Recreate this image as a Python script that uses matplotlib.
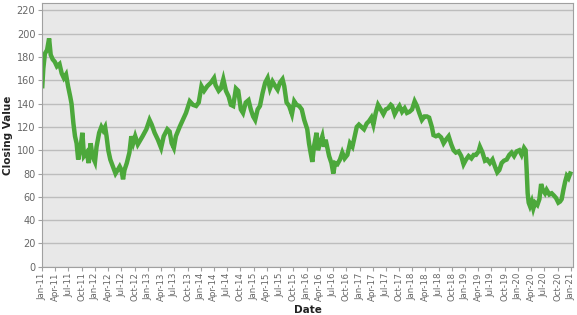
import matplotlib
matplotlib.use('Agg')
import matplotlib.pyplot as plt
import matplotlib.dates as mdates
import pandas as pd

# values (roughly twice a month)
dates = [
    '2011-01-01', '2011-01-08', '2011-01-19', '2011-02-03', '2011-02-17', '2011-02-28',
    '2011-03-14', '2011-03-28', '2011-04-12', '2011-04-30', '2011-05-15', '2011-05-30',
    '2011-06-14', '2011-06-28', '2011-07-13', '2011-07-22', '2011-08-04', '2011-08-15',
    '2011-08-26', '2011-09-06', '2011-09-20', '2011-10-05', '2011-10-16', '2011-11-03',
    '2011-11-18', '2011-12-01', '2011-12-14', '2011-12-31',
    '2012-01-11', '2012-01-29', '2012-02-13', '2012-02-26', '2012-03-10', '2012-03-20',
    '2012-04-01', '2012-04-15', '2012-05-03', '2012-05-21', '2012-06-05', '2012-06-19',
    '2012-07-01', '2012-07-12', '2012-07-22', '2012-08-07', '2012-08-25', '2012-09-07',
    '2012-09-20', '2012-10-04', '2012-10-22', '2012-11-10', '2012-11-24', '2012-12-20',
    '2013-01-11', '2013-01-26', '2013-02-15', '2013-03-10', '2013-04-01', '2013-04-19',
    '2013-05-14', '2013-05-30', '2013-06-13', '2013-06-28', '2013-07-12', '2013-08-07',
    '2013-08-29', '2013-09-20', '2013-10-16', '2013-11-07', '2013-11-29', '2013-12-17',
    '2014-01-05', '2014-01-23', '2014-02-14', '2014-03-11', '2014-04-02', '2014-04-12',
    '2014-05-04', '2014-05-19', '2014-06-05', '2014-06-23', '2014-07-12', '2014-07-27',
    '2014-08-12', '2014-08-31', '2014-09-16', '2014-10-04', '2014-10-19', '2014-11-07',
    '2014-11-26', '2014-12-12', '2014-12-28',
    '2015-01-11', '2015-01-28', '2015-02-13', '2015-03-03', '2015-03-21', '2015-04-07',
    '2015-04-23', '2015-05-11', '2015-05-30', '2015-06-15', '2015-07-01', '2015-07-19',
    '2015-07-31', '2015-08-16', '2015-09-03', '2015-09-22', '2015-10-08', '2015-10-24',
    '2015-11-11', '2015-11-29', '2015-12-16',
    '2016-01-06', '2016-01-18', '2016-01-29', '2016-02-10', '2016-02-21', '2016-03-10',
    '2016-03-20', '2016-04-03', '2016-04-19', '2016-04-30', '2016-05-12', '2016-05-24',
    '2016-06-05', '2016-06-21', '2016-07-04', '2016-07-16', '2016-08-01', '2016-08-19',
    '2016-09-04', '2016-09-20', '2016-10-09', '2016-10-27', '2016-11-13', '2016-11-29',
    '2016-12-13', '2016-12-28',
    '2017-01-14', '2017-02-01', '2017-02-20', '2017-03-08', '2017-03-24', '2017-04-07',
    '2017-04-23', '2017-05-09', '2017-05-28', '2017-06-15', '2017-07-01', '2017-07-17',
    '2017-08-05', '2017-08-14', '2017-09-01', '2017-09-18', '2017-10-04', '2017-10-22',
    '2017-11-09', '2017-11-25', '2017-12-12', '2017-12-30',
    '2018-01-17', '2018-02-02', '2018-02-18', '2018-03-08', '2018-03-26', '2018-04-12',
    '2018-04-27', '2018-05-16', '2018-05-27', '2018-06-13', '2018-07-01', '2018-07-19',
    '2018-08-05', '2018-08-21', '2018-09-09', '2018-09-27', '2018-10-13', '2018-10-29',
    '2018-11-17', '2018-12-05', '2018-12-21',
    '2019-01-07', '2019-01-25', '2019-02-13', '2019-03-01', '2019-03-17', '2019-04-04',
    '2019-04-13', '2019-05-01', '2019-05-18', '2019-06-03', '2019-06-21', '2019-07-09',
    '2019-07-26', '2019-08-11', '2019-08-25', '2019-09-10', '2019-09-26', '2019-10-15',
    '2019-11-02', '2019-11-18', '2019-12-05', '2019-12-23',
    '2020-01-10', '2020-01-26', '2020-02-12', '2020-02-23', '2020-03-01', '2020-03-08',
    '2020-03-15', '2020-03-24', '2020-04-05', '2020-04-16', '2020-04-28', '2020-05-14',
    '2020-05-28', '2020-06-09', '2020-06-20', '2020-07-06', '2020-07-17', '2020-08-05',
    '2020-08-21', '2020-09-06', '2020-09-20', '2020-10-06', '2020-10-18', '2020-10-29',
    '2020-11-10', '2020-11-22', '2020-12-03', '2020-12-15', '2020-12-27',
]
closing = [
    155, 170, 183, 186, 196, 182,
    178, 176, 172, 174, 166, 162,
    165, 155, 146, 140, 123, 112,
    106, 92, 100, 115, 95, 98,
    89, 106, 95, 90,
    103, 115, 120, 117, 120, 112,
    100, 92, 86, 80, 83, 86,
    83, 75, 83, 89, 98, 112,
    106, 112, 105, 109, 112, 118,
    126, 122, 115, 109, 102, 112,
    118, 116, 106, 102, 112, 120,
    126, 132, 142, 139, 138, 141,
    155, 151, 155, 158, 162, 156,
    151, 153, 161, 151, 146, 139,
    138, 153, 151, 135, 132, 141,
    143, 135, 129,
    126, 135, 138, 149, 158, 162,
    153, 159, 155, 152, 158, 161,
    155, 141, 138, 131, 142, 139,
    138, 135, 126,
    118, 106, 98, 90, 103, 115,
    100, 106, 112, 103, 109, 102,
    95, 89, 80, 89, 88, 92,
    98, 93, 96, 106, 103, 112,
    120, 122,
    120, 118, 123, 125, 128, 122,
    132, 139, 135, 131, 135, 136,
    139, 138, 131, 135, 138, 133,
    136, 132, 133, 135,
    142, 138, 132, 126, 129, 129,
    128, 120, 113, 112, 113, 111,
    106, 109, 112, 105, 100, 98,
    99, 95, 88,
    92, 95, 93, 96, 96, 99,
    103, 98, 91, 92, 89, 92,
    86, 81, 83, 89, 91, 92,
    96, 98, 95, 99,
    100, 96, 102, 100, 83, 63,
    55, 52, 56, 50, 55, 53,
    58, 71, 66, 63, 66, 62,
    63, 61, 59, 55, 56, 58,
    66, 73, 78, 76, 80,
]
y_ticks = list(range(0, 221, 20))

df = pd.DataFrame({'Date': pd.to_datetime(dates), 'Close': closing})

fig = plt.figure(figsize=(5.77, 3.15), dpi=100)
ax = fig.add_axes([0.0733, 0.1533, 0.9197, 0.8357])
ax.set_facecolor('#e8e8e8')

ax.plot(df['Date'], df['Close'], color='#4ca83b', lw=3.2, solid_joinstyle='miter')

ax.set_ylim(0, 226)
ax.set_yticks(y_ticks)
ax.set_xlim(pd.Timestamp('2011-01-01'), pd.Timestamp('2021-01-15'))
ax.xaxis.set_major_locator(mdates.MonthLocator(bymonth=[1, 4, 7, 10]))
ax.xaxis.set_major_formatter(mdates.DateFormatter('%b-%y'))

ax.grid(axis='y', color='#bdbdbd', lw=1)
ax.set_axisbelow(True)
for side in ax.spines:
    ax.spines[side].set_color('#a0a0a0')
ax.tick_params(axis='both', colors='#a0a0a0', labelcolor='#666666', length=3)
ax.tick_params(axis='y', labelsize=7, pad=2)
ax.tick_params(axis='x', labelrotation=90, labelsize=6.2, pad=1)

ax.set_ylabel('Closing Value', fontsize=7.5, fontweight='bold', color='#222222')
ax.yaxis.set_label_coords(-0.055, 0.5)
ax.set_xlabel('Date', fontsize=7.5, fontweight='bold', color='#222222')
ax.xaxis.set_label_coords(0.5, -0.146)

fig.savefig('out.png', dpi=100)
